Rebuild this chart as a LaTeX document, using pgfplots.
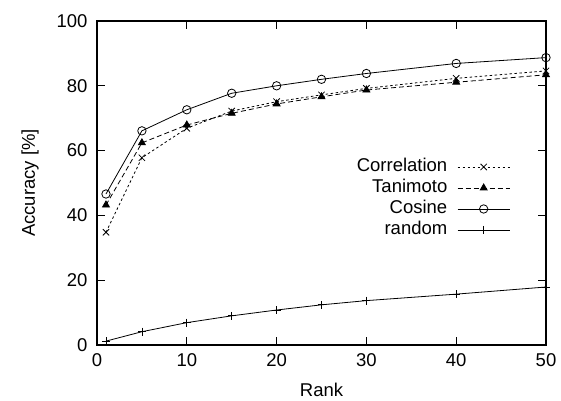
\documentclass[border=0pt]{standalone}
\usepackage{pgfplots}
\pgfplotsset{compat=1.18}
\usepackage{fontspec}
\setmainfont{Liberation Sans}
\begin{document}
\begin{tikzpicture}
\begin{axis}[
  scale only axis,
  width=449pt, height=324pt,
  at={(0,0)}, anchor=south west,
  xmin=0, xmax=50, ymin=0, ymax=100,
  xtick={0,10,...,50}, ytick={0,20,...,100},
  tick align=inside,
  major tick length=8pt,
  axis line style={line width=1.1pt},
  every tick/.style={black, line width=0.9pt},
  /pgf/number format/assume math mode=true,
  tick label style={font=\fontsize{18.5}{22}\selectfont},
  yticklabel style={xshift=-6pt},
  xticklabel style={yshift=-5pt},
  label style={font=\fontsize{18.5}{22}\selectfont},
  xlabel={Rank},
  ylabel={Accuracy [\%]},
  xlabel style={at={(axis description cs:0.5,-0.14)}, anchor=center},
  ylabel style={at={(axis description cs:-0.149,0.5)}, anchor=center},
  legend plot pos=right,
  legend cell align=right,
  legend image code/.code={\draw[mark repeat=2,mark phase=2,#1] plot coordinates {(0pt,0pt) (26pt,0pt) (52pt,0pt)};},
  legend style={at={(rel axis cs:0.92,0.578)}, anchor=north east, draw=none, fill=none,
    inner sep=0pt, outer sep=0pt, row sep=2.5pt, column sep=9pt,
    font=\fontsize{18.5}{22}\selectfont,
    nodes={inner sep=1pt, text height=13pt, text depth=3.5pt}},
  every axis plot/.append style={line width=0.8pt, black},
]
\addplot[dash pattern=on 2.5pt off 2.5pt, mark=x, mark size=4.5pt, mark options={solid}]
  coordinates {(1,34.8) (5,57.8) (10,66.9) (15,72.2) (20,75.1) (25,77.2) (30,79.2) (40,82.3) (50,84.6)};
\addlegendentry{Correlation}
\addplot[dash pattern=on 5pt off 3pt, mark=triangle*, mark size=4pt, mark options={solid}]
  coordinates {(1,43.2) (5,62.4) (10,67.9) (15,71.5) (20,74.4) (25,76.6) (30,78.7) (40,81.1) (50,83.4)};
\addlegendentry{Tanimoto}
\addplot[solid, mark=o, mark size=4.2pt]
  coordinates {(1,46.6) (5,66.1) (10,72.6) (15,77.7) (20,80.0) (25,82.0) (30,83.8) (40,86.9) (50,88.7)};
\addlegendentry{Cosine}
\addplot[solid, mark=+, mark size=4pt]
  coordinates {(1,1.2) (5,4.1) (10,6.9) (15,9.0) (20,10.8) (25,12.4) (30,13.7) (40,15.7) (50,17.9)};
\addlegendentry{random}
\end{axis}
\path[use as bounding box] (-97pt,-54pt) rectangle (464pt,345pt);
\end{tikzpicture}
\end{document}
